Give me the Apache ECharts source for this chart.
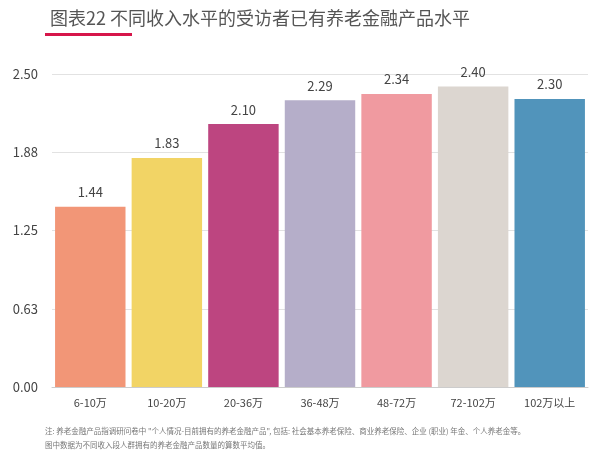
<!DOCTYPE html>
<html><head><meta charset="utf-8">
<script src="https://cdn.jsdelivr.net/npm/echarts@6/dist/echarts.min.js"></script>
<style>html,body{margin:0;padding:0;background:#fff}#c{width:600px;height:455px}</style>
</head><body><div id="c"></div>
<script>
const categories = ['6-10万','10-20万','20-36万','36-48万','48-72万','72-102万','102万以上'];
const values = [1.44, 1.83, 2.10, 2.29, 2.34, 2.40, 2.30];
const colors = ['#f29677','#f2d465','#bd4580','#b5aec9','#f09aa0','#dcd6d0','#5194bb'];
const chart = echarts.init(document.getElementById('c'));
const ff = '"Noto Sans CJK SC", sans-serif';
chart.setOption({
  animation: false,
  title: {text: '图表22 不同收入水平的受访者已有养老金融产品水平', left: 45, top: 4,
    textStyle: {fontFamily: ff, fontSize: 18, fontWeight: 'normal', color: '#555'}},
  graphic: [
    {type: 'rect', shape: {x: 45, y: 33, width: 87, height: 3}, style: {fill: '#d6164a'}},
    {type: 'text', left: 45, top: 424, style: {text: '注: 养老金融产品指调研问卷中 "个人情况-目前拥有的养老金融产品", 包括: 社会基本养老保险、商业养老保险、企业 (职业) 年金、个人养老金等。\n图中数据为不同收入段人群拥有的养老金融产品数量的算数平均值。', fontFamily: ff, fontSize: 7.5, lineHeight: 14, fill: '#777'}}
  ],
  grid: {left: 52, right: 12, top: 74, bottom: 68},
  xAxis: {type: 'category', data: categories,
    axisLine: {lineStyle: {color: '#ccc'}}, axisTick: {show: false},
    axisLabel: {fontFamily: ff, fontSize: 11, color: '#444', margin: 10}},
  yAxis: {type: 'value', min: 0, max: 2.5, interval: 0.625,
    axisLabel: {formatter: v => v.toFixed(2), fontFamily: ff, fontSize: 13, color: '#444', margin: 14},
    splitLine: {lineStyle: {color: '#e2e2e2'}}},
  series: [{type: 'bar', barWidth: '92%',
    data: values.map((v, i) => ({value: v, itemStyle: {color: colors[i]}})),
    label: {show: true, position: 'top', formatter: p => p.value.toFixed(2), fontFamily: ff, fontSize: 13, color: '#444', distance: 8}}]
});
</script></body></html>
